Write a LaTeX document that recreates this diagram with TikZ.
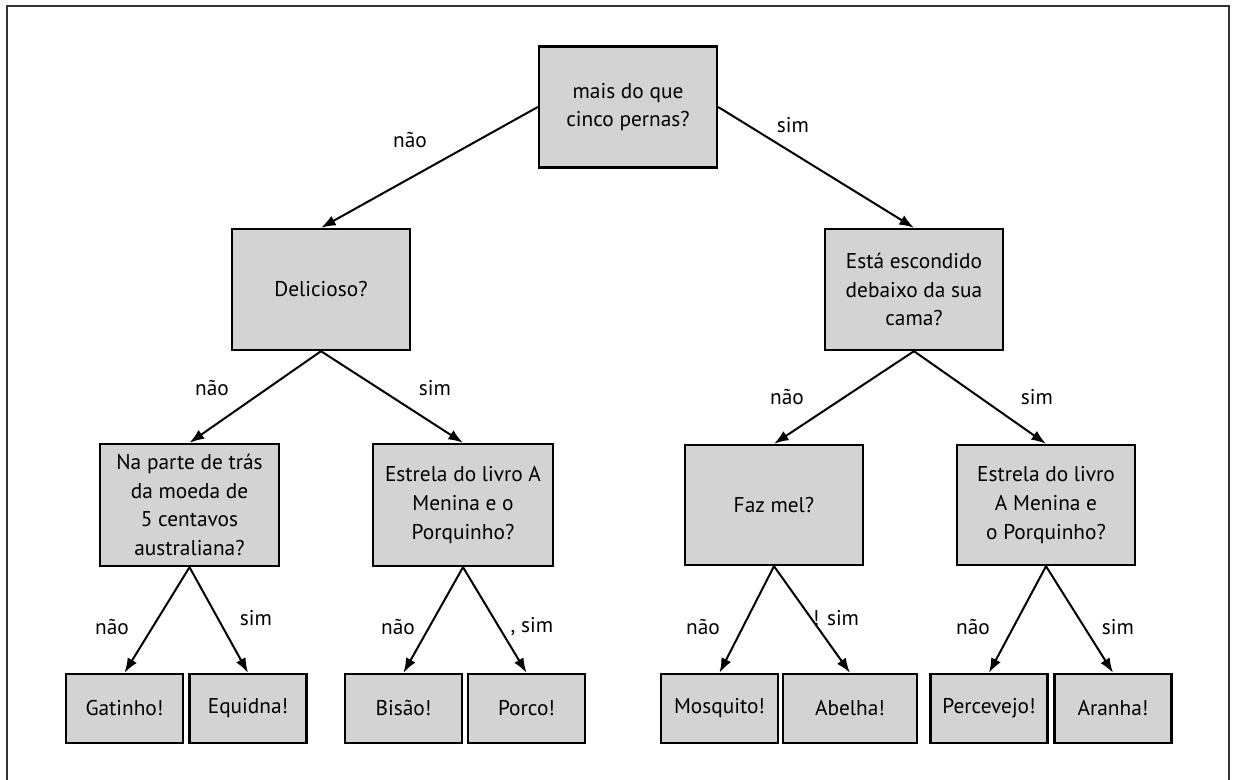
\documentclass[tikz,border=0pt]{standalone}
\usepackage{fontspec}
\setmainfont{PT Sans}
\usetikzlibrary{arrows.meta}
\begin{document}
\begin{tikzpicture}[x=0.75pt,y=-0.75pt,
  box/.style={draw=black,line width=1.8pt,fill=boxgray,align=center,inner sep=0pt,
    font=\fontsize{16}{21.5}\selectfont},
  qbox/.style={box,minimum width=178*0.75pt,minimum height=121*0.75pt},
  leaf/.style={box,minimum width=117*0.75pt,minimum height=69*0.75pt},
  lab/.style={font=\fontsize{16}{20}\selectfont,inner sep=0pt},
  arr/.style={line width=1.5pt,-{Latex[length=11pt,width=8pt]}},
  frame/.style={line width=1.5pt,draw=black!80}
]
\definecolor{boxgray}{RGB}{211,211,211}
\useasboundingbox (0,0) rectangle (1233,780);
\fill[white] (0,0) rectangle (1233,780);
\coordinate (f1) at (7,780);
\coordinate (f2) at (7,6);
\coordinate (f3) at (1229,6);
\coordinate (f4) at (1229,780);
\draw[frame] (f1) -- (f2) -- (f3) -- (f4);

\node[qbox] (root) at (628,107) {mais do que\\cinco pernas?};
\node[qbox] (del) at (321,289.5) {Delicioso?};
\node[qbox] (esta) at (914,289.5) {Está escondido\\debaixo da sua\\cama?};
\node[qbox,minimum width=179*0.75pt,minimum height=122*0.75pt] (parte) at (189.5,505) {Na parte de trás\\da moeda de\\5 centavos\\australiana?};
\node[qbox,minimum width=180*0.75pt,minimum height=122*0.75pt] (estl) at (463,505) {Estrela do livro A\\Menina e o\\Porquinho?};
\node[qbox,minimum height=120*0.75pt] (faz) at (774,505) {Faz mel?};
\node[qbox,minimum height=120*0.75pt] (estr) at (1046,505) {Estrela do livro\\A Menina e\\o Porquinho?};

\node[leaf] (gat) at (124.5,708.5) {Gatinho!};
\node[leaf] (equ) at (248,708.5) {Equidna!};
\node[leaf] (bis) at (403.5,708.5) {Bisão!};
\node[leaf] (por) at (526.5,708.5) {Porco!};
\node[leaf] (mos) at (719.5,708.5) {Mosquito!};
\node[leaf,minimum width=134*0.75pt] (abe) at (850,708.5) {Abelha!};
\node[leaf] (per) at (989,708.5) {Percevejo!};
\node[leaf] (ara) at (1113,708.5) {Aranha!};

\draw[arr] (root.west) -- (del.north);
\draw[arr] (root.east) -- (esta.north);
\draw[arr] (del.south) -- (parte.north);
\draw[arr] (del.south) -- (estl.north);
\draw[arr] (esta.south) -- (faz.north);
\draw[arr] (esta.south) -- (estr.north);
\draw[arr] (parte.south) -- (gat.north);
\draw[arr] (parte.south) -- (equ.north);
\draw[arr] (estl.south) -- (bis.north);
\draw[arr] (estl.south) -- (por.north);
\draw[arr] (faz.south) -- (mos.north);
\draw[arr] (faz.south) -- (abe.north);
\draw[arr] (estr.south) -- (per.north);
\draw[arr] (estr.south) -- (ara.north);

\node[lab] (l1) at (410,140) {não};
\node[lab] (l2) at (793,125) {sim};
\node[lab] (l3) at (212,388) {não};
\node[lab] (l4) at (435,388) {sim};
\node[lab] (l5) at (787,397) {não};
\node[lab] (l6) at (1037,397) {sim};
\node[lab] (l7) at (112,627) {não};
\node[lab] (l8) at (256,618) {sim};
\node[lab] (l9) at (398,627) {não};
\node[lab] (l10) at (532,627) {, sim};
\node[lab] (l11) at (703,627) {não};
\node[lab] (l12) at (836,618) {! sim};
\node[lab] (l13) at (973,627) {não};
\node[lab] (l14) at (1118,627) {sim};
\end{tikzpicture}
\end{document}
